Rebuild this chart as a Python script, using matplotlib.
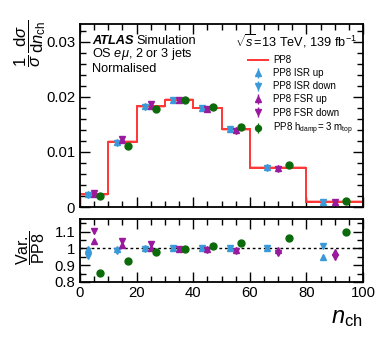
import numpy as np
import matplotlib
matplotlib.use("Agg")
import matplotlib.pyplot as plt
from matplotlib.ticker import MultipleLocator

plt.rcParams['font.family'] = ['Liberation Sans', 'DejaVu Sans']
plt.rcParams['mathtext.fontset'] = 'custom'
plt.rcParams['mathtext.rm'] = 'Liberation Sans'
plt.rcParams['mathtext.it'] = 'Liberation Sans:italic'
plt.rcParams['mathtext.sf'] = 'Liberation Sans'

# ---- data ----
bin_edges = [0, 10, 20, 30, 40, 50, 60, 80, 100]
nominal = [0.0023, 0.01187, 0.01824, 0.0195, 0.01795, 0.01413, 0.00715, 0.00097]

ratio_isr_up   = [0.994, 0.995, 1.000, 1.000, 1.000, 1.003, 1.005, 0.950]
ratio_isr_down = [0.957, 0.985, 0.998, 1.000, 1.000, 1.000, 1.000, 1.016]
ratio_fsr_up   = [1.043, 1.020, 1.004, 0.998, 0.994, 0.990, 0.990, 0.976]
ratio_fsr_down = [1.102, 1.047, 1.024, 0.995, 0.992, 0.982, 0.970, 0.950]
ratio_hdamp    = [0.855, 0.927, 0.976, 0.998, 1.012, 1.030, 1.060, 1.100]

series = [
    ("PP8 ISR up",   ratio_isr_up,   '^', '#3a9ad9', 0.3),
    ("PP8 ISR down", ratio_isr_down, 'v', '#3a9ad9', 0.3),
    ("PP8 FSR up",   ratio_fsr_up,   '^', '#9a1a9e', 0.5),
    ("PP8 FSR down", ratio_fsr_down, 'v', '#9a1a9e', 0.5),
    ("PP8 h$_{\\rm damp}$= 3 m$_{\\rm top}$", ratio_hdamp, 'o', '#0b6b0b', 0.7),
]

edges = np.array(bin_edges, dtype=float)
nom = np.array(nominal)
lo = edges[:-1]
w = np.diff(edges)

fig = plt.figure(figsize=(3.82, 3.46), dpi=100)
ax = fig.add_axes([0.2094, 0.4017, 0.7409, 0.5289])
axr = fig.add_axes([0.2094, 0.185, 0.7409, 0.182])

red = '#ff3535'
band = 0.00025
ax.fill_between(edges, np.append(nom - band, nom[-1] - band), np.append(nom + band, nom[-1] + band),
                step='post', color='#ffb8b8', lw=0, zorder=1)
ax.stairs(nom, edges, color=red, lw=1.4, label='PP8', zorder=2)

for label, r, mk, col, off in series:
    x = lo + off * w
    r = np.array(r)
    ms = 5.0 if mk == 'o' else 4.8
    ax.errorbar(x, nom * r, yerr=0.00035, fmt=mk, color=col, ms=ms, lw=1.0,
                capsize=0, label=label, zorder=3)
    axr.errorbar(x, r, yerr=0.008, fmt=mk, color=col, ms=ms, lw=1.0, capsize=0, zorder=3)

axr.axhline(1.0, color='black', ls=(0, (2, 2)), lw=1.0, zorder=1)

for a in (ax, axr):
    a.set_xlim(0, 100)
    a.xaxis.set_major_locator(MultipleLocator(20))
    a.xaxis.set_minor_locator(MultipleLocator(5))
    a.tick_params(which='both', direction='in', top=True, right=True, labelsize=10.7)
    a.tick_params(which='major', length=7, width=1.0)
    a.tick_params(which='minor', length=4, width=1.0)
    for s in a.spines.values():
        s.set_linewidth(1.3)

ax.set_ylim(0, 0.0332)
ax.yaxis.set_minor_locator(MultipleLocator(0.002))
ax.set_yticks([0, 0.01, 0.02, 0.03])
ax.set_yticklabels(['0', '0.01', '0.02', '0.03'])
ax.tick_params(labelbottom=False)

axr.set_ylim(0.8, 1.175)
axr.set_yticks([0.8, 0.9, 1.0, 1.1])
axr.set_yticklabels(['0.8', '0.9', '1', '1.1'])
axr.yaxis.set_minor_locator(MultipleLocator(0.05))
axr.set_xticks([0, 20, 40, 60, 80, 100])
axr.tick_params(axis='x', pad=3)

fig.text(0.079, 0.945, r'$\dfrac{1}{\sigma}\,\dfrac{\mathrm{d}\sigma}{\mathrm{d}n_{\mathrm{ch}}}$',
         rotation=90, fontsize=12, ha='center', va='top')
fig.text(0.081, 0.283, r'$\dfrac{\mathrm{Var.}}{\mathrm{PP8}}$', rotation=90, fontsize=11.5,
         ha='center', va='center')
fig.text(0.95, 0.081, r'$n_{\mathrm{ch}}$', fontsize=17, ha='right', va='center')

fs = 9.2
t1 = ax.text(0.042, 0.907, 'ATLAS', transform=ax.transAxes, fontsize=fs, fontweight='bold',
             fontstyle='italic', va='center')
fig.canvas.draw()
bb = t1.get_window_extent(renderer=fig.canvas.get_renderer())
x_end = ax.transAxes.inverted().transform((bb.x1, bb.y0))[0]
ax.text(x_end + 0.012, 0.907, 'Simulation', transform=ax.transAxes, fontsize=fs, va='center')
ax.text(0.042, 0.836, r'OS $e\mu$, 2 or 3 jets', transform=ax.transAxes, fontsize=fs, va='center')
ax.text(0.042, 0.755, 'Normalised', transform=ax.transAxes, fontsize=fs, va='center')
ax.text(0.979, 0.907, r'$\sqrt{s}$=13 TeV, 139 fb$^{-1}$', transform=ax.transAxes,
        fontsize=fs, va='center', ha='right')

leg = ax.legend(loc='upper left', bbox_to_anchor=(0.595, 0.83), frameon=False, fontsize=7,
                handlelength=2.0, labelspacing=0.32, borderpad=0.0, borderaxespad=0.0,
                handletextpad=0.55, markerscale=0.85)

fig.savefig('out.png', dpi=100)
